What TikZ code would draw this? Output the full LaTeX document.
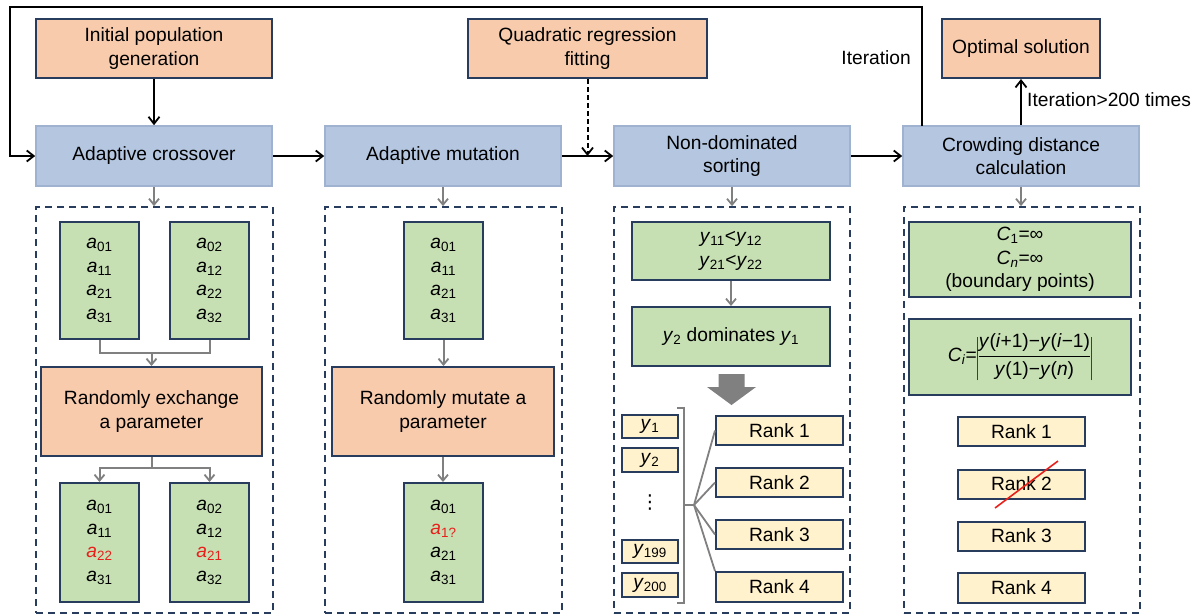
\documentclass[tikz,border=0pt]{standalone}
\usepackage{fontspec}
\setmainfont{Liberation Sans}
\newfontfamily\dejavu{DejaVu Sans}
\usetikzlibrary{arrows.meta,calc}
\definecolor{navy}{HTML}{283C5E}
\definecolor{orfill}{HTML}{F8CBAD}
\definecolor{blfill}{HTML}{B4C6E0}
\definecolor{blline}{HTML}{9FB3D1}
\definecolor{grfill}{HTML}{C6E0B4}
\definecolor{yefill}{HTML}{FFF2CC}
\definecolor{grey}{HTML}{808080}
\definecolor{redt}{HTML}{E8201C}
\newcommand\fs{\fontsize{19.2}{23.5}\selectfont}
\newcommand\myA[1]{\textit{a}\textsubscript{#1}}
\newcommand\myY[1]{\textit{y}\textsubscript{#1}}
\newcommand\absbar{{\color{black!75}\rule[-19pt]{0.8pt}{43pt}}}
\begin{document}
\begin{tikzpicture}[x=1pt,y=-1pt,
  base/.style={inner sep=0pt, align=center, font=\fs},
  obox/.style={base, draw=navy, line width=2pt, fill=orfill},
  bbox/.style={base, draw=blline, line width=1.6pt, fill=blfill},
  gbox/.style={base, draw=navy, line width=2pt, fill=grfill},
  ybox/.style={base, draw=navy, line width=2pt, fill=yefill},
  dbox/.style={draw=navy, line width=1.8pt, dash pattern=on 7pt off 5pt},
  barr/.style={line width=2pt, -{Straight Barb[length=7pt,width=11pt,line width=1.8pt]}},
  garr/.style={draw=grey, line width=2pt, -{Straight Barb[length=6pt,width=10pt,line width=1.8pt]}},
  gline/.style={draw=grey, line width=2pt},
  lbl/.style={inner sep=0pt, font=\fs}
]
\useasboundingbox (0,0) rectangle (1199,614);
\clip (0,0) rectangle (1199,614);

% top row
\node[obox, minimum width=236pt, minimum height=59pt] (init) at (154,48.5) {Initial population\\generation};
\node[obox, minimum width=239pt, minimum height=59pt] (quad) at (587.5,48.5) {Quadratic regression\\fitting};
\node[obox, minimum width=158pt, minimum height=59pt] (opt) at (1021,48.5) {Optimal solution};

% process row
\node[bbox, minimum width=236pt, minimum height=60pt] (cross) at (154,156) {Adaptive crossover};
\node[bbox, minimum width=236pt, minimum height=60pt] (mut) at (443,156) {Adaptive mutation};
\node[bbox, minimum width=236pt, minimum height=60pt] (nd) at (732,156) {Non-dominated\\sorting};
\node[bbox, minimum width=236pt, minimum height=60pt] (cd) at (1021,156) {Crowding distance\\calculation};

\draw[barr] (init.south) -- (cross.north);
\draw[barr] (cross.east) -- (mut.west);
\draw[barr] (mut.east) -- (nd.west);
\draw[barr] (nd.east) -- (cd.west);
\draw[barr, dash pattern=on 5pt off 3pt] (quad.south) -- (quad.south |- mut.east);
\coordinate (lp) at (922,126);
\draw[barr] (lp) |- (10,7) |- (cross.west);
\node[lbl, anchor=east] (itl) at (911,58) {Iteration};
\draw[barr] (cd.north) -- (opt.south);
\node[lbl, anchor=west] (itl2) at (1027,100) {Iteration>200 times};

% dashed frames
\node[dbox, minimum width=237pt, minimum height=406pt, inner sep=0pt] (d1) at (154.5,410) {};
\node[dbox, minimum width=237pt, minimum height=406pt, inner sep=0pt] (d2) at (443.5,410) {};
\node[dbox, minimum width=236pt, minimum height=406pt, inner sep=0pt] (d3) at (732,410) {};
\node[dbox, minimum width=236pt, minimum height=406pt, inner sep=0pt] (d4) at (1022,410) {};
\draw[garr] (cross.south) -- (cross.south |- d1.north);
\draw[garr] (mut.south) -- (mut.south |- d2.north);
\draw[garr] (nd.south) -- (nd.south |- d3.north);
\draw[garr] (cd.south) -- (cd.south |- d4.north);

% column 1
\node[gbox, minimum width=79pt, minimum height=117pt] (g1l) at (99.5,280.5) {\myA{01}\\\myA{11}\\\myA{21}\\\myA{31}};
\node[gbox, minimum width=79pt, minimum height=117pt] (g1r) at (209.5,280.5) {\myA{02}\\\myA{12}\\\myA{22}\\\myA{32}};
\node[obox, minimum width=221pt, minimum height=89pt] (ex) at (151.5,411.5) {Randomly exchange\\a parameter};
\node[gbox, minimum width=79pt, minimum height=119pt] (g2l) at (99.5,542.5) {\myA{01}\\\myA{11}\\\textcolor{redt}{\myA{22}}\\\myA{31}};
\node[gbox, minimum width=79pt, minimum height=119pt] (g2r) at (209.5,542.5) {\myA{02}\\\myA{12}\\\textcolor{redt}{\myA{21}}\\\myA{32}};
\coordinate (j1) at (151.5,353);
\coordinate (j2) at (151.5,468);
\draw[gline] (g1l.south) |- (j1) -| (g1r.south);
\draw[garr] (j1) -- (ex.north);
\draw[gline] (ex.south) -- (j2);
\draw[garr] (j2) -| (g2l.north);
\draw[garr] (j2) -| (g2r.north);

% column 2
\node[gbox, minimum width=79pt, minimum height=117pt] (m1) at (443.5,280.5) {\myA{01}\\\myA{11}\\\myA{21}\\\myA{31}};
\node[obox, minimum width=222pt, minimum height=89pt] (mu) at (443,411.5) {Randomly mutate a\\parameter};
\node[gbox, minimum width=79pt, minimum height=119pt] (m2) at (443.5,542.5) {\myA{01}\\\textcolor{redt}{\myA{1?}}\\\myA{21}\\\myA{31}};
\draw[garr] (m1.south) -- (m1.south |- mu.north);
\draw[garr] (mu.south) -- (mu.south |- m2.north);

% column 3
\node[gbox, minimum width=198pt, minimum height=58pt] (s1) at (731,251) {\myY{11}<\myY{12}\\\myY{21}<\myY{22}};
\node[gbox, minimum width=198pt, minimum height=59pt] (s2) at (731,336.5) {\myY{2} dominates \myY{1}};
\draw[garr] (s1.south) -- (s2.north);
\fill[grey] (718.5,374) -- (744.5,374) -- (744.5,387) -- (756,387) -- (731.5,405) -- (707,387) -- (718.5,387) -- cycle;
\node[ybox, minimum width=56pt, minimum height=23pt] (y1) at (650,426.5) {\myY{1}};
\node[ybox, minimum width=56pt, minimum height=24pt] (y2) at (650,460) {\myY{2}};
\node[lbl] (ydots) at (650,503) {\dejavu ⋮};
\node[ybox, minimum width=56pt, minimum height=23pt] (y199) at (650,551.5) {\myY{199}};
\node[ybox, minimum width=56pt, minimum height=24pt] (y200) at (650,585) {\myY{200}};
\node[ybox, minimum width=127pt, minimum height=29pt] (r31) at (779.5,430.5) {Rank 1};
\node[ybox, minimum width=127pt, minimum height=29pt] (r32) at (779.5,482.5) {Rank 2};
\node[ybox, minimum width=127pt, minimum height=29pt] (r33) at (779.5,534.5) {Rank 3};
\node[ybox, minimum width=127pt, minimum height=30pt] (r34) at (779.5,587) {Rank 4};
\draw[grey, line width=1.8pt] (677,408) -- (684,408) -- (684,603) -- (677,603);
\coordinate (bm) at (684,505);
\coordinate (fan) at (694,505);
\draw[grey, line width=1.8pt] (bm) -- (fan);
\draw[grey, line width=1.8pt] (fan) -- (r31.west);
\draw[grey, line width=1.8pt] (fan) -- (r32.west);
\draw[grey, line width=1.8pt] (fan) -- (r33.west);
\draw[grey, line width=1.8pt] (fan) -- (r34.north west);

% column 4
\node[gbox, minimum width=222pt, minimum height=75pt] (c1) at (1020,259.5) {\textit{C}\textsubscript{1}=∞\\\textit{C}\textsubscript{\textit{n}}=∞\\(boundary points)};
\node[gbox, minimum width=222pt, minimum height=76pt] (c2) at (1020,357) {\textit{C}\textsubscript{\textit{i}}=\absbar$\displaystyle\frac{\mbox{\fs\textit{y}(\textit{i}+1)−\textit{y}(\textit{i}−1)}}{\mbox{\fs\textit{y}(1)−\textit{y}(\textit{n})}}$\absbar};
\node[ybox, minimum width=127pt, minimum height=29pt] (r41) at (1021.5,431.5) {Rank 1};
\node[ybox, minimum width=127pt, minimum height=29pt] (r42) at (1021.5,484) {Rank 2};
\node[ybox, minimum width=127pt, minimum height=29pt] (r43) at (1021.5,536) {Rank 3};
\node[ybox, minimum width=127pt, minimum height=30pt] (r44) at (1021.5,588) {Rank 4};
\draw[redt, line width=1.6pt] ($(r42.center)+(-26.5,24)$) -- ($(r42.center)+(36.5,-23)$);
\end{tikzpicture}
\end{document}
